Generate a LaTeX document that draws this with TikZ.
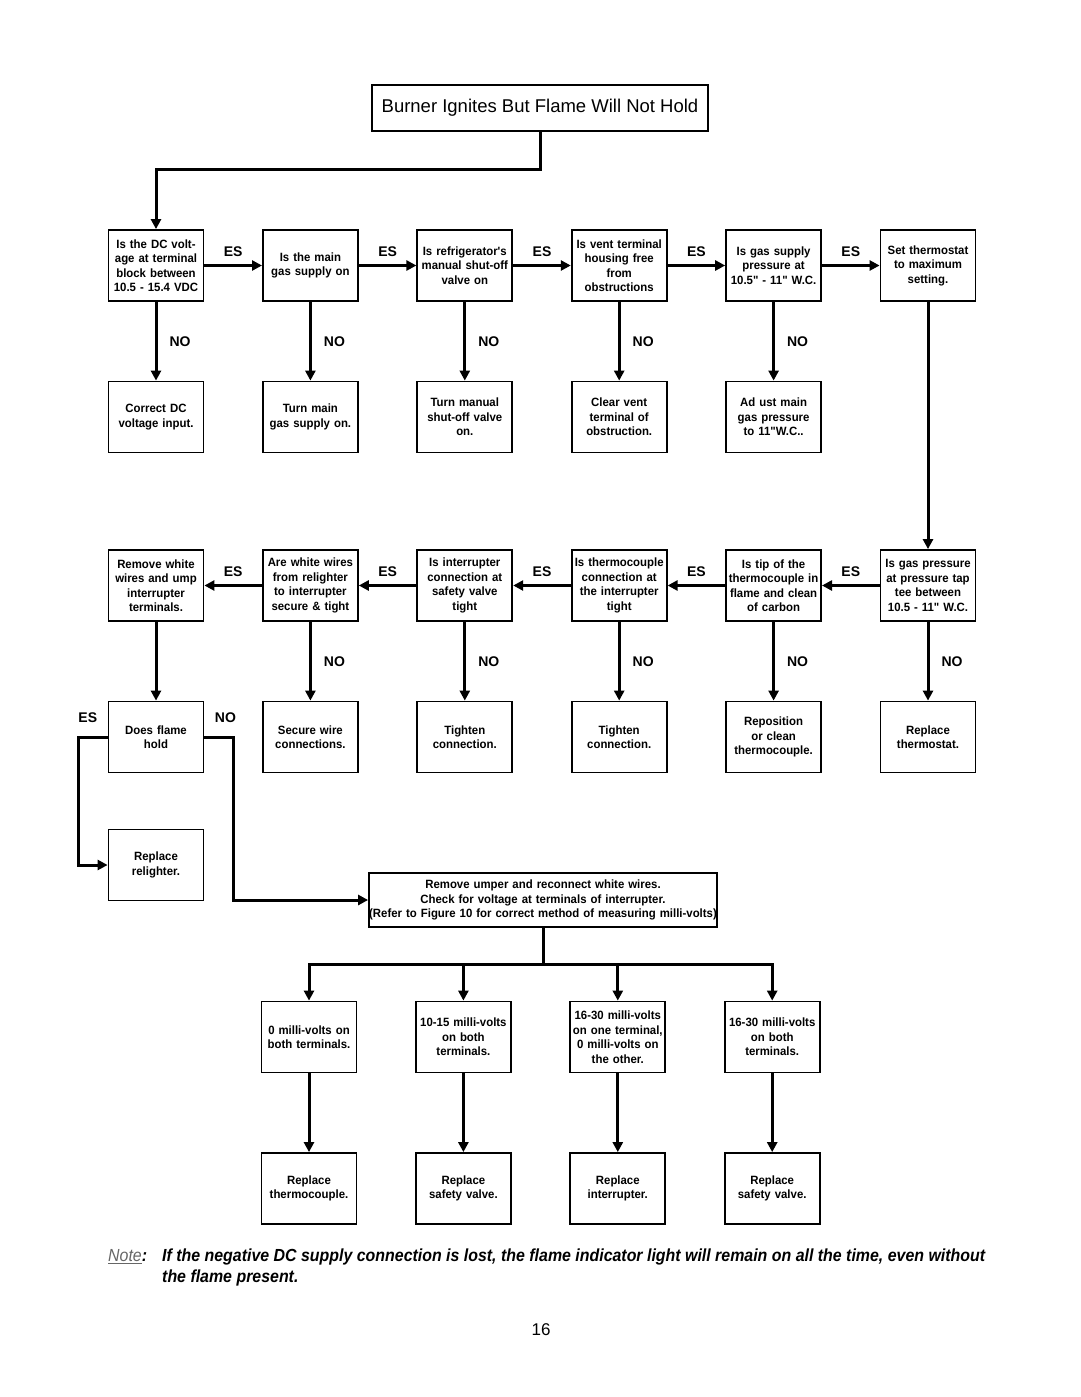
\documentclass[tikz,border=0pt]{standalone}
\usepackage{fontspec}
\setmainfont{Liberation Sans}
\newfontfamily\boxfont[FakeStretch=0.95]{Liberation Sans}
\newfontfamily\notefont[FakeStretch=0.91]{Liberation Sans}
\usetikzlibrary{arrows.meta,positioning}

\begin{document}
\begin{tikzpicture}[x=1pt,y=-1pt,node distance=154.4pt,>={Triangle[length=10pt,width=10pt]}]

  \tikzstyle{box}=[rectangle,draw,line width=1.8pt,minimum width=95pt,minimum height=71pt,text width=91pt,inner sep=2pt,align=center,font=\boxfont\bfseries\fontsize{12}{14.5}\selectfont]
  \tikzstyle{lbl}=[inner sep=1pt,font=\bfseries\fontsize{14}{16}\selectfont]
  \tikzstyle{flow}=[->,line width=3pt]

  \useasboundingbox (0,0) rectangle (1080,1397);

  \begin{scope}

    \node [rectangle,draw,line width=2pt,minimum width=336pt,minimum height=46pt,font=\fontsize{18.5}{21}\selectfont] (title) at (540,108) {Burner Ignites But Flame Will Not Hold};

    % first row of checks
    \node [box] (dcvolt) at (156,265.5) {Is the DC volt-\\age at terminal\\block between\\10.5 - 15.4 VDC};
    \node [box] (mainon) [right of=dcvolt] {Is the main\\gas supply on};
    \node [box] (valveon) [right of=mainon] {Is refrigerator's\\manual shut-off\\valve on};
    \node [box] (ventfree) [right of=valveon] {Is vent terminal\\housing free\\from\\obstructions};
    \node [box] (gaspress) [right of=ventfree] {Is gas supply\\pressure at\\10.5" - 11" W.C.};
    \node [box] (setmax) [right of=gaspress] {Set thermostat\\to maximum\\setting.};

    % fixes for the first row
    \node [box] (fixdc) [below of=dcvolt,node distance=151.5pt] {Correct DC\\voltage input.};
    \node [box] (turnmain) [below of=mainon,node distance=151.5pt] {Turn main\\gas supply on.};
    \node [box] (turnvalve) [below of=valveon,node distance=151.5pt] {Turn manual\\shut-off valve\\on.};
    \node [box] (clearvent) [below of=ventfree,node distance=151.5pt] {Clear vent\\terminal of\\obstruction.};
    \node [box] (adjgas) [below of=gaspress,node distance=151.5pt] {Ad ust main\\gas pressure\\to 11"W.C..};

    % second row of checks, right to left
    \node [box] (taptee) [below of=setmax,node distance=320pt] {Is gas pressure\\at pressure tap\\tee between\\10.5 - 11" W.C.};
    \node [box] (tipclean) [left of=taptee] {Is tip of the\\thermocouple in\\flame and clean\\of carbon};
    \node [box] (tcconn) [left of=tipclean] {Is thermocouple\\connection at\\the interrupter\\tight};
    \node [box] (svconn) [left of=tcconn] {Is interrupter\\connection at\\safety valve\\tight};
    \node [box] (wiresok) [left of=svconn] {Are white wires\\from relighter\\to interrupter\\secure \& tight};
    \node [box] (jumpterm) [left of=wiresok] {Remove white\\wires and ump\\interrupter\\terminals.};

    % fixes for the second row
    \node [box] (holds) [below of=jumpterm,node distance=151.5pt] {Does flame\\hold};
    \node [box] (securewire) [below of=wiresok,node distance=151.5pt] {Secure wire\\connections.};
    \node [box] (tightsv) [below of=svconn,node distance=151.5pt] {Tighten\\connection.};
    \node [box] (tighttc) [below of=tcconn,node distance=151.5pt] {Tighten\\connection.};
    \node [box] (repos) [below of=tipclean,node distance=151.5pt] {Reposition\\or clean\\thermocouple.};
    \node [box] (replstat) [below of=taptee,node distance=151.5pt] {Replace\\thermostat.};

    \node [box] (relighter) [below of=holds,node distance=128pt] {Replace\\relighter.};

    \node [box,minimum width=348pt,text width=344pt,minimum height=54pt] (measure) at (543,900) {Remove umper and reconnect white wires.\\Check for voltage at terminals of interrupter.\\\makebox[344pt]{(Refer to Figure 10 for correct method of measuring milli-volts)}};

    % readings
    \node [box] (zeromv) at (309,1037) {0 milli-volts on\\both terminals.};
    \node [box] (lowmv) [right of=zeromv] {10-15 milli-volts\\on both\\terminals.};
    \node [box] (onemv) [right of=lowmv] {16-30 milli-volts\\on one terminal,\\0 milli-volts on\\the other.};
    \node [box] (bothmv) [right of=onemv] {16-30 milli-volts\\on both\\terminals.};

    \node [box] (repltc) [below of=zeromv,node distance=151.5pt] {Replace\\thermocouple.};
    \node [box] (replsv) [below of=lowmv,node distance=151.5pt] {Replace\\safety valve.};
    \node [box] (replint) [below of=onemv,node distance=151.5pt] {Replace\\interrupter.};
    \node [box] (replsv2) [below of=bothmv,node distance=151.5pt] {Replace\\safety valve.};

    % connectors
    \draw [flow] (title.south) -- ++(0,37) -| (dcvolt.north);

    \draw [flow] (dcvolt) -- node [lbl,above=6pt] (es1) {ES} (mainon);
    \draw [flow] (mainon) -- node [lbl,above=6pt] (es2) {ES} (valveon);
    \draw [flow] (valveon) -- node [lbl,above=6pt] (es3) {ES} (ventfree);
    \draw [flow] (ventfree) -- node [lbl,above=6pt] (es4) {ES} (gaspress);
    \draw [flow] (gaspress) -- node [lbl,above=6pt] (es5) {ES} (setmax);

    \draw [flow] (dcvolt) -- node [lbl,right=11pt] (no1) {NO} (fixdc);
    \draw [flow] (mainon) -- node [lbl,right=11pt] (no2) {NO} (turnmain);
    \draw [flow] (valveon) -- node [lbl,right=11pt] (no3) {NO} (turnvalve);
    \draw [flow] (ventfree) -- node [lbl,right=11pt] (no4) {NO} (clearvent);
    \draw [flow] (gaspress) -- node [lbl,right=11pt] (no5) {NO} (adjgas);

    \draw [flow] (setmax) -- (taptee);

    \draw [flow] (taptee) -- node [lbl,above=6pt] (es6) {ES} (tipclean);
    \draw [flow] (tipclean) -- node [lbl,above=6pt] (es7) {ES} (tcconn);
    \draw [flow] (tcconn) -- node [lbl,above=6pt] (es8) {ES} (svconn);
    \draw [flow] (svconn) -- node [lbl,above=6pt] (es9) {ES} (wiresok);
    \draw [flow] (wiresok) -- node [lbl,above=6pt] (es10) {ES} (jumpterm);

    \draw [flow] (jumpterm) -- (holds);
    \draw [flow] (wiresok) -- node [lbl,right=11pt] (no6) {NO} (securewire);
    \draw [flow] (svconn) -- node [lbl,right=11pt] (no7) {NO} (tightsv);
    \draw [flow] (tcconn) -- node [lbl,right=11pt] (no8) {NO} (tighttc);
    \draw [flow] (tipclean) -- node [lbl,right=11pt] (no9) {NO} (repos);
    \draw [flow] (taptee) -- node [lbl,right=11pt] (no10) {NO} (replstat);

    \draw [flow] (holds.west) node [lbl,above left=12pt and 8pt] (esh) {ES} -- ++(-29,0) |- (relighter.west);
    \draw [flow] (holds.east) node [lbl,above right=12pt and 8pt] (noh) {NO} -- ++(29,0) |- (measure.west);

    \draw [line width=3pt] (measure.south) -- ++(0,37) coordinate (hub);
    \draw [flow] (hub) -| (zeromv.north);
    \draw [flow] (hub) -| (lowmv.north);
    \draw [flow] (hub) -| (onemv.north);
    \draw [flow] (hub) -| (bothmv.north);

    \draw [flow] (zeromv) -- (repltc);
    \draw [flow] (lowmv) -- (replsv);
    \draw [flow] (onemv) -- (replint);
    \draw [flow] (bothmv) -- (replsv2);

    % note and page number
    \node [anchor=north west,inner sep=0pt,text=black!60,font=\notefont\itshape\fontsize{17.5}{21}\selectfont] (notehead) at (108,1249) {\underline{Note}\textcolor{black}{\bfseries:}};
    \node [anchor=north west,inner sep=0pt,align=left,font=\notefont\bfseries\itshape\fontsize{17.5}{21}\selectfont] (notebody) at (162,1249) {If the negative DC supply connection is lost, the flame indicator light will remain on all the time, even without\\the flame present.};

    \node [font=\fontsize{17}{20}\selectfont] (pagenum) at (541,1330) {16};

  \end{scope}

\end{tikzpicture}
\end{document}
